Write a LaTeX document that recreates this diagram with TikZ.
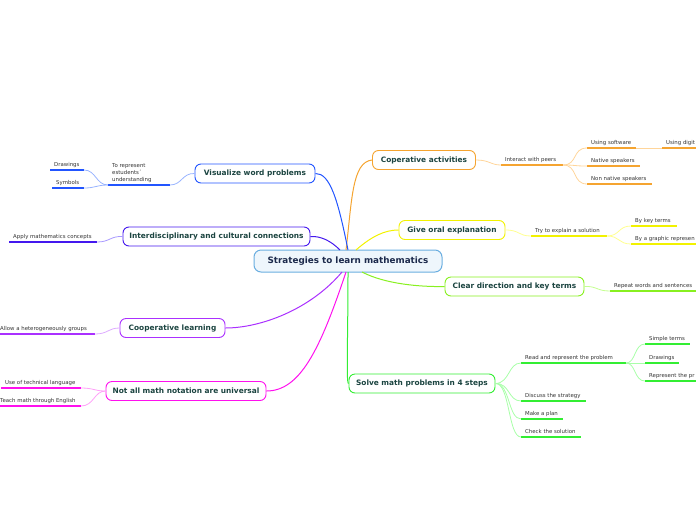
\documentclass[tikz,border=0pt]{standalone}
\usepackage{fontspec}
\setmainfont{DejaVu Sans}
\definecolor{topictxt}{HTML}{1B4440}
\definecolor{roottxt}{HTML}{1C2A4C}
\definecolor{leaftxt}{HTML}{333333}
\definecolor{cOr}{HTML}{F5A430}\definecolor{cOrL}{HTML}{FFD59A}
\definecolor{cYe}{HTML}{F2F200}\definecolor{cYeL}{HTML}{FFFF90}
\definecolor{cLi}{HTML}{88F020}\definecolor{cLiL}{HTML}{C4FF90}
\definecolor{cGr}{HTML}{33EE33}\definecolor{cGrL}{HTML}{A8FFA8}
\definecolor{cBl}{HTML}{2255FF}\definecolor{cBlL}{HTML}{99B4FF}
\definecolor{cIn}{HTML}{4418EE}\definecolor{cInL}{HTML}{A899FF}
\definecolor{cPu}{HTML}{AA30FF}\definecolor{cPuL}{HTML}{DDAAFF}
\definecolor{cMa}{HTML}{FF10EE}\definecolor{cMaL}{HTML}{FFA0F8}
\definecolor{cRoot}{HTML}{6AAEE0}\definecolor{cRootF}{HTML}{EEF6FC}
\newcommand\leafln[6]{%
  \coordinate (#1-l) at (#2,#4); \coordinate (#1-r) at (#3,#4);
  \draw[#5, line width=1.6pt] (#1-l) -- (#1-r);
  \node[leafnode, anchor=base west] (#1) at ([xshift=4pt,yshift=4pt]#1-l) {#6};}
\begin{document}
\begin{tikzpicture}[x=1pt,y=-1pt,
  topic/.style={draw=#1, line width=0.9pt, rounded corners=6pt, fill=white,
    minimum height=19pt, inner sep=0pt, font=\bfseries\fontsize{7.4}{8}\selectfont, text=topictxt},
  leafnode/.style={inner sep=0pt, font=\fontsize{5.4}{6.4}\selectfont, text=leaftxt},
  mainln/.style={line width=1pt},
  subln/.style={line width=0.8pt}]
\useasboundingbox (0,0) rectangle (696,520);
% root
\node[draw=cRoot, fill=cRootF, line width=1pt, rounded corners=7pt, minimum width=188pt,
  minimum height=22pt, inner sep=0pt, font=\bfseries\fontsize{8.8}{10}\selectfont, text=roottxt]
  (root) at (348,261) {Strategies to learn mathematics};
\coordinate (rt) at (348,250);
\coordinate (rb) at (348,272);
% topics
\node[topic=cOr, minimum width=103pt] (coop) at (424,160) {Coperative activities};
\node[topic=cYe, minimum width=106pt] (give) at (452,230) {Give oral explanation};
\node[topic=cLi, minimum width=139pt] (clear) at (514.5,286.5) {Clear direction and key terms};
\node[topic=cGr, minimum width=146pt] (solve) at (422,383.5) {Solve math problems in 4 steps};
\node[topic=cBl, minimum width=120pt] (vis) at (255,173.5) {Visualize word problems};
\node[topic=cIn, minimum width=187pt] (inter) at (216.5,236.5) {Interdisciplinary and cultural connections};
\node[topic=cPu, minimum width=105pt] (coopl) at (172.5,328) {Cooperative learning};
\node[topic=cMa, minimum width=160pt] (notall) at (186,391) {Not all math notation are universal};
% main connectors
\draw[mainln, cOr] (346,250) .. controls (352,200) and (352,162) .. (coop.west);
\draw[mainln, cYe] (356,250) .. controls (372,236) and (385,230) .. (give.west);
\draw[mainln, cLi] (362,272) .. controls (385,284) and (420,287) .. (clear.west);
\draw[mainln, cGr] (rb) .. controls (348,340) and (346,383) .. (solve.west);
\draw[mainln, cBl] (rt) .. controls (338,200) and (330,173) .. (vis.east);
\draw[mainln, cIn] (340,250) .. controls (330,240) and (320,236) .. (inter.east);
\draw[mainln, cPu] (342,272) .. controls (310,310) and (260,328) .. (coopl.east);
\draw[mainln, cMa] (346,272) .. controls (320,350) and (300,391) .. (notall.east);
% Coperative activities
\leafln{peers}{501}{563}{165}{cOr}{Interact with peers}
\leafln{soft}{587}{636}{148}{cOr}{Using software}
\leafln{digit}{662}{700}{148}{cOr}{Using digit}
\leafln{native}{587}{640}{166}{cOr}{Native speakers}
\leafln{nonnat}{587}{652}{184}{cOr}{Non native speakers}
\draw[subln, cOrL] (coop.east) .. controls (490,160) and (490,165) .. (peers-l);
\draw[subln, cOrL] (peers-r) .. controls (578,165) and (572,148) .. (soft-l);
\draw[subln, cOrL] (peers-r) .. controls (578,165) and (572,166) .. (native-l);
\draw[subln, cOrL] (peers-r) .. controls (578,165) and (572,184) .. (nonnat-l);
\draw[subln, cOrL] (soft-r) -- (digit-l);
% Give oral explanation
\leafln{try}{531}{607}{236}{cYe}{Try to explain a solution}
\leafln{keyt}{631}{677}{226}{cYe}{By key terms}
\leafln{graph}{631}{700}{244}{cYe}{By a graphic represen}
\draw[subln, cYeL] (give.east) .. controls (520,230) and (518,236) .. (try-l);
\draw[subln, cYeL] (try-r) .. controls (620,236) and (618,226) .. (keyt-l);
\draw[subln, cYeL] (try-r) .. controls (620,236) and (618,244) .. (graph-l);
% Clear direction
\leafln{repeat}{610}{700}{291}{cLi}{Repeat words and sentences}
\draw[subln, cLiL] (clear.east) .. controls (598,286) and (596,291) .. (repeat-l);
% Solve math problems
\leafln{read}{521}{626}{363}{cGr}{Read and represent the problem}
\leafln{simple}{645}{690}{344}{cGr}{Simple terms}
\leafln{draw}{645}{679}{363}{cGr}{Drawings}
\leafln{repr}{645}{700}{381}{cGr}{Represent the pr}
\leafln{disc}{521}{586}{401}{cGr}{Discuss the strategy}
\leafln{plan}{521}{563}{419}{cGr}{Make a plan}
\leafln{check}{521}{581}{437}{cGr}{Check the solution}
\draw[subln, cGrL] (solve.east) .. controls (510,383) and (508,363) .. (read-l);
\draw[subln, cGrL] (solve.east) .. controls (510,383) and (508,401) .. (disc-l);
\draw[subln, cGrL] (solve.east) .. controls (510,383) and (508,419) .. (plan-l);
\draw[subln, cGrL] (solve.east) .. controls (510,383) and (508,437) .. (check-l);
\draw[subln, cGrL] (read-r) .. controls (636,363) and (634,344) .. (simple-l);
\draw[subln, cGrL] (read-r) -- (draw-l);
\draw[subln, cGrL] (read-r) .. controls (636,363) and (634,381) .. (repr-l);
% Visualize word problems
\coordinate (torep-l) at (108,185); \coordinate (torep-r) at (170,185);
\draw[cBl, line width=1.6pt] (torep-l) -- (torep-r);
\node[leafnode, anchor=south west, align=left, font=\fontsize{5.4}{6.6}\selectfont] (torep) at (112,182.5)
  {To represent\\estudents´\\understanding};
\leafln{drw}{50}{84}{170}{cBl}{Drawings}
\leafln{sym}{52}{84}{188}{cBl}{Symbols}
\draw[subln, cBlL] (vis.west) .. controls (182,173) and (182,185) .. (torep-r);
\draw[subln, cBlL] (torep-l) .. controls (96,185) and (96,170) .. (drw-r);
\draw[subln, cBlL] (torep-l) .. controls (96,185) and (96,188) .. (sym-r);
% Interdisciplinary
\leafln{apply}{9}{97}{242}{cIn}{Apply mathematics concepts}
\draw[subln, cInL] (inter.west) .. controls (110,236) and (110,242) .. (apply-r);
% Cooperative learning
\leafln{allow}{-4}{95}{334}{cPu}{Allow a heterogeneously groups}
\draw[subln, cPuL] (coopl.west) .. controls (108,328) and (108,334) .. (allow-r);
% Not all math notation
\leafln{tech}{1}{81}{388}{cMa}{Use of technical language}
\leafln{teach}{-4}{81}{406}{cMa}{Teach math through English}
\draw[subln, cMaL] (notall.west) .. controls (94,391) and (94,388) .. (tech-r);
\draw[subln, cMaL] (notall.west) .. controls (94,391) and (94,406) .. (teach-r);
\end{tikzpicture}
\end{document}
